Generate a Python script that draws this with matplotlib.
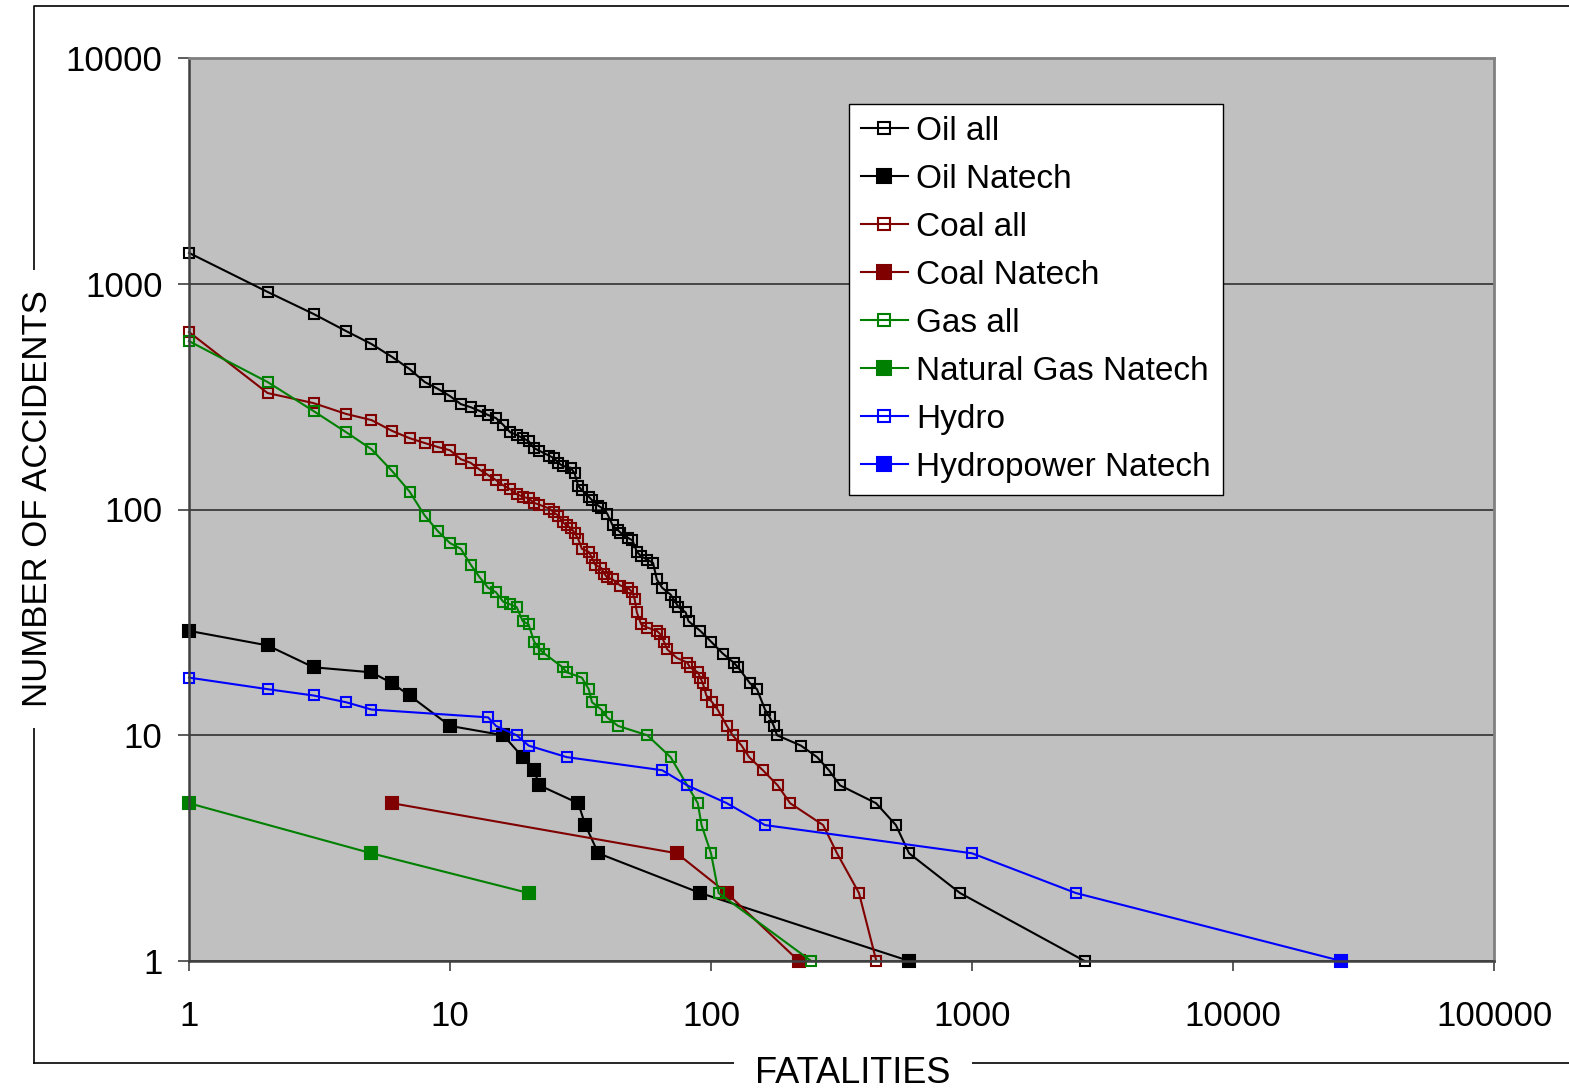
import matplotlib
matplotlib.use("Agg")
import matplotlib.pyplot as plt
from matplotlib.lines import Line2D
from matplotlib.ticker import FixedLocator, FuncFormatter

# cumulative accident counts (number of accidents with >= N fatalities)
oil_all_x = [1, 2, 3, 4, 5, 6, 7, 8, 9, 10, 11, 12, 13, 14, 15, 16, 17, 18, 19, 20,
             21, 22, 24, 25, 26, 27, 29, 30, 31, 32, 34, 35, 37, 38, 40, 42, 44, 45,
             48, 50, 52, 54, 57, 60, 62, 65, 70, 73, 75, 80, 82, 91, 100, 111, 122,
             127, 141, 150, 161, 168, 174, 179, 221, 255, 283, 312, 429, 511, 574,
             900, 2700]
oil_all_y = [1370, 920, 735, 617, 541, 474, 419, 367, 342, 318, 293, 284, 273, 262,
             254, 237, 220, 214, 207, 201, 187, 182, 173, 169, 161, 156, 153, 145,
             127, 122, 114, 110, 104, 102, 96, 85, 81, 79, 75, 73, 65, 62, 60, 58,
             49, 45, 42, 39, 37, 35, 32, 29, 26, 23, 21, 20, 17, 16, 13, 12, 11, 10,
             9, 8, 7, 6, 5, 4, 3, 2, 1]

oil_natech_x = [1, 2, 3, 5, 6, 7, 10, 16, 19, 21, 22, 31, 33, 37, 91, 575]
oil_natech_y = [29, 25, 20, 19, 17, 15, 11, 10, 8, 7, 6, 5, 4, 3, 2, 1]

coal_all_x = [1, 2, 3, 4, 5, 6, 7, 8, 9, 10, 11, 12, 13, 14, 15, 16, 17, 18, 19, 20,
              21, 22, 24, 25, 26, 27, 28, 29, 30, 31, 32, 34, 35, 36, 38, 39, 40, 42,
              45, 48, 50, 51, 52, 54, 57, 62, 64, 66, 68, 74, 81, 83, 89, 91, 93, 96,
              101, 106, 115, 121, 131, 140, 158, 180, 201, 269, 304, 369, 430]
coal_all_y = [611, 328, 296, 265, 249, 223, 207, 197, 189, 183, 167, 161, 150, 142,
              135, 128, 123, 117, 114, 112, 107, 105, 101, 97, 94, 88, 85, 83, 79, 74,
              67, 65, 61, 57, 55, 52, 50, 49, 46, 45, 43, 40, 35, 31, 30, 29, 28, 26,
              24, 22, 21, 20, 19, 18, 17, 15, 14, 13, 11, 10, 9, 8, 7, 6, 5, 4, 3, 2, 1]

coal_natech_x = [6, 74, 115, 217]
coal_natech_y = [5, 3, 2, 1]

gas_all_x = [1, 2, 3, 4, 5, 6, 7, 8, 9, 10, 11, 12, 13, 14, 15, 16, 17, 18, 19, 20,
             21, 22, 23, 27, 28, 32, 34, 35, 38, 40, 44, 57, 70, 89, 92, 100, 107, 242]
gas_all_y = [557, 367, 273, 220, 185, 148, 120, 94, 80, 71, 67, 57, 50, 45, 43, 39,
             38, 37, 32, 31, 26, 24, 23, 20, 19, 18, 16, 14, 13, 12, 11, 10, 8, 5, 4,
             3, 2, 1]

gas_natech_x = [1, 5, 20]
gas_natech_y = [5, 3, 2]

hydro_x = [1, 2, 3, 4, 5, 14, 15, 18, 20, 28, 65, 81, 115, 161, 1000, 2500, 26000]
hydro_y = [18, 16, 15, 14, 13, 12, 11, 10, 9, 8, 7, 6, 5, 4, 3, 2, 1]

hydro_natech_x = [26000]
hydro_natech_y = [1]

x_ticks = [1, 10, 100, 1000, 10000, 100000]
y_ticks = [1, 10, 100, 1000, 10000]

plt.rcParams['font.family'] = ['Liberation Sans', 'DejaVu Sans']

fig = plt.figure(figsize=(15.69, 10.88), dpi=100)
ax = fig.add_axes([189/1569, 1 - 961/1088, (1494-189)/1569, (961-58)/1088])
ax.set_facecolor('#c0c0c0')

series = [
    (oil_all_x, oil_all_y, 'black', 'none', 'Oil all'),
    (oil_natech_x, oil_natech_y, 'black', 'black', 'Oil Natech'),
    (coal_all_x, coal_all_y, '#800000', 'none', 'Coal all'),
    (coal_natech_x, coal_natech_y, '#800000', '#800000', 'Coal Natech'),
    (gas_all_x, gas_all_y, '#008000', 'none', 'Gas all'),
    (gas_natech_x, gas_natech_y, '#008000', '#008000', 'Natural Gas Natech'),
    (hydro_x, hydro_y, '#0000ff', 'none', 'Hydro'),
    (hydro_natech_x, hydro_natech_y, '#0000ff', '#0000ff', 'Hydropower Natech'),
]
for xs, ys, c, fc, lab in series:
    ms = 7.5 if fc == 'none' else 8
    ax.plot(xs, ys, color=c, lw=1.5, marker='s', ms=ms, mfc=fc, mec=c,
            mew=1.5, label=lab, clip_on=False)

ax.set_xscale('log')
ax.set_yscale('log')
ax.set_xlim(1, 100000)
ax.set_ylim(1, 10000)
ax.xaxis.set_major_locator(FixedLocator(x_ticks))
ax.yaxis.set_major_locator(FixedLocator(y_ticks))
ax.xaxis.set_minor_locator(FixedLocator([]))
ax.yaxis.set_minor_locator(FixedLocator([]))
fmt = FuncFormatter(lambda v, p: '%d' % round(v))
ax.xaxis.set_major_formatter(fmt)
ax.yaxis.set_major_formatter(fmt)
ax.tick_params(axis='x', length=7, width=1.2, color='#404040', pad=21, labelsize=25)
ax.tick_params(axis='y', length=8, width=1.2, color='#404040', pad=11, labelsize=25)

ax.grid(axis='y', color='#303030', lw=1.2)
ax.set_axisbelow(True)
for s in ['left', 'bottom']:
    ax.spines[s].set_color('#404040')
    ax.spines[s].set_linewidth(1.8)
for s in ['top', 'right']:
    ax.spines[s].set_color('#808080')
    ax.spines[s].set_linewidth(2)

leg = ax.legend(loc='upper left', bbox_to_anchor=(0.5057, 0.949), borderaxespad=0,
                fontsize=24, frameon=True, fancybox=False, framealpha=1,
                edgecolor='black', handlelength=1.4, handletextpad=0.25,
                labelspacing=0.51, borderpad=0.36, markerscale=1.2)
leg.get_frame().set_linewidth(1.0)

# outer chart border, broken by the axis titles
fig.add_artist(Line2D([34/1569, 34/1569, 1.0], [1 - 1063/1088, 1 - 5.5/1088, 1 - 5.5/1088],
                      color='black', lw=1.2))
fig.add_artist(Line2D([34/1569, 1.0], [1 - 1063/1088, 1 - 1063/1088],
                      color='black', lw=1.2))

narrow = ['Liberation Sans Narrow', 'Liberation Sans', 'DejaVu Sans']
box = dict(facecolor='white', edgecolor='none', pad=15)
fig.text(47/1569, 1 - 499/1088, 'NUMBER OF ACCIDENTS', rotation=90,
         rotation_mode='anchor', ha='center', va='baseline', fontsize=25,
         family=narrow, bbox=box)
fig.text(853/1569, 1 - 1083/1088, 'FATALITIES', ha='center', va='baseline',
         fontsize=26, family=narrow, bbox=box)

fig.savefig('out.png', dpi=100)
